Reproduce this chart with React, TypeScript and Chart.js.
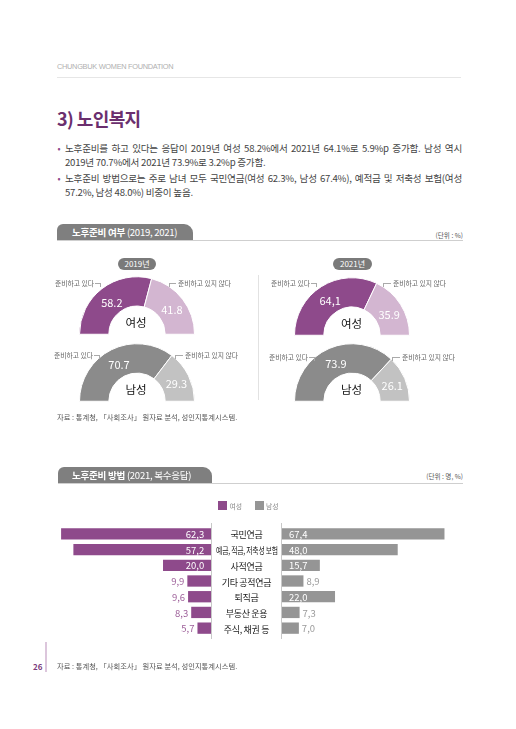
import React, { useEffect, useRef } from "react";
import { Chart, registerables } from "chart.js";

Chart.register(...registerables);

const FONT = '"Noto Sans CJK KR", "Noto Sans", sans-serif';
Chart.defaults.font.family = FONT;

// ---------- data ----------
const donutLabels = ["준비하고 있다", "준비하고 있지 않다"];
const female2019 = [58.2, 41.8];
const male2019 = [70.7, 29.3];
const female2021 = [64.1, 35.9];
const male2021 = [73.9, 26.1];
const female2019Marks = [".", "."];
const male2019Marks = [".", "."];
const female2021Marks = [",", "."];
const male2021Marks = [".", "."];
const yearLabels = ["2019년", "2021년"];

const methodCategories = [
  "국민연금",
  "예금, 적금, 저축성 보험",
  "사적연금",
  "기타 공적연금",
  "퇴직금",
  "부동산 운용",
  "주식, 채권 등",
];
const methodFemale = [62.3, 57.2, 20.0, 9.9, 9.6, 8.3, 5.7];
const methodMale = [67.4, 48.0, 15.7, 8.9, 22.0, 7.3, 7.0];
const legendLabels = ["여성", "남성"];

// ---------- colors ----------
const PURPLE = "#8e4a8b";
const PURPLE_LIGHT = "#d3b6d1";
const GREY_DARK = "#8b8b8b";
const GREY_LIGHT = "#c2c2c2";
const BAR_GREY = "#959595";

const fmt = (v: number, mark: string) => v.toFixed(1).replace(".", mark);

// ---------- text helper ----------
function T({
  x,
  y,
  size,
  color = "#333",
  weight = 400,
  align = "left",
  children,
  style = {},
  family = FONT,
}: any) {
  const tx = align === "left" ? "0" : align === "center" ? "-50%" : "-100%";
  return (
    <div
      style={{
        position: "absolute",
        left: x,
        top: y,
        transform: `translate(${tx}, -50%)`,
        fontSize: size,
        lineHeight: 1,
        color,
        fontWeight: weight,
        fontFamily: family,
        whiteSpace: "nowrap",
        ...style,
      }}
    >
      {children}
    </div>
  );
}

function Box({ x, y, w, h, bg, style = {} }: any) {
  return (
    <div
      style={{
        position: "absolute",
        left: x,
        top: y,
        width: w,
        height: h,
        background: bg,
        ...style,
      }}
    />
  );
}

// ---------- half doughnut ----------
function HalfDonut({ cx, cy, r, data, colors, marks }: any) {
  const ref = useRef<HTMLCanvasElement>(null);
  useEffect(() => {
    const valuePlugin = {
      id: "donutValues",
      afterDatasetsDraw(chart: any) {
        const ctx = chart.ctx;
        const meta = chart.getDatasetMeta(0);
        meta.data.forEach((arc: any, i: number) => {
          const p = arc.tooltipPosition(true);
          ctx.save();
          ctx.fillStyle = "#ffffff";
          ctx.font = `11px ${FONT}`;
          ctx.textAlign = "center";
          ctx.textBaseline = "middle";
          ctx.fillText(fmt(data[i], marks[i]), p.x + 1, p.y + 2);
          ctx.restore();
        });
      },
    };
    const chart = new Chart(ref.current as HTMLCanvasElement, {
      type: "doughnut",
      data: {
        labels: donutLabels,
        datasets: [
          {
            data,
            backgroundColor: colors,
            borderColor: "#ffffff",
            borderWidth: 1,
          },
        ],
      },
      options: {
        responsive: true,
        maintainAspectRatio: false,
        animation: false,
        rotation: -90,
        circumference: 180,
        cutout: "49%",
        layout: { padding: 0 },
        plugins: { legend: { display: false }, tooltip: { enabled: false } },
      } as any,
      plugins: [valuePlugin],
    });
    return () => chart.destroy();
  }, []);
  return (
    <div
      style={{
        position: "absolute",
        left: cx - r - 1,
        top: cy - r - 1.25,
        width: 2 * r + 2,
        height: r + 2,
      }}
    >
      <canvas ref={ref} />
    </div>
  );
}

// ---------- one side of butterfly bar ----------
function BarSide({ x, y, w, h, values, color, reverse, max, outsideColor }: any) {
  const ref = useRef<HTMLCanvasElement>(null);
  useEffect(() => {
    const labelPlugin = {
      id: "barValues",
      afterDatasetsDraw(chart: any) {
        const ctx = chart.ctx;
        const meta = chart.getDatasetMeta(0);
        meta.data.forEach((bar: any, i: number) => {
          const { x: bx, y: by, base } = bar.getProps(["x", "y", "base"], true);
          const v = values[i];
          const inside = v >= 12;
          ctx.save();
          ctx.font = `9.5px ${FONT}`;
          ctx.textBaseline = "middle";
          const txt = fmt(v, ",");
          if (reverse) {
            ctx.textAlign = "right";
            ctx.fillStyle = inside ? "#ffffff" : outsideColor;
            ctx.fillText(txt, inside ? base - 7 : bx - 3, by + 0.5);
          } else {
            ctx.textAlign = "left";
            ctx.fillStyle = inside ? "#ffffff" : outsideColor;
            ctx.fillText(txt, inside ? base + 7 : bx + 3, by + 0.5);
          }
          ctx.restore();
        });
      },
    };
    const chart = new Chart(ref.current as HTMLCanvasElement, {
      type: "bar",
      data: {
        labels: methodCategories,
        datasets: [
          {
            data: values,
            backgroundColor: color,
            borderWidth: 0,
            barPercentage: 0.72,
            categoryPercentage: 1,
          },
        ],
      },
      options: {
        indexAxis: "y",
        responsive: true,
        maintainAspectRatio: false,
        animation: false,
        layout: { padding: 0 },
        scales: {
          x: { display: false, min: 0, max, reverse },
          y: { display: false },
        },
        plugins: { legend: { display: false }, tooltip: { enabled: false } },
      } as any,
      plugins: [labelPlugin],
    });
    return () => chart.destroy();
  }, []);
  return (
    <div style={{ position: "absolute", left: x, top: y, width: w, height: h }}>
      <canvas ref={ref} />
    </div>
  );
}

function Leader({ x1, x2, y, dropAt }: any) {
  const left = Math.min(x1, x2);
  const w = Math.abs(x2 - x1);
  return (
    <div
      style={{
        position: "absolute",
        left,
        top: y,
        width: w,
        height: 4,
        borderTop: "1px solid #aaaaaa",
        borderRight: dropAt === "right" ? "1px solid #aaaaaa" : "none",
        borderLeft: dropAt === "left" ? "1px solid #aaaaaa" : "none",
        boxSizing: "border-box",
      }}
    />
  );
}

const PX_PER_UNIT = 2.41;
const BAR_TOP = 526;
const BAR_H = 110;
const LEFT_MAX = 64;
const RIGHT_MAX = 75;
const AXIS_L = 211;
const AXIS_R = 281;

export default function App() {
  const rowH = BAR_H / methodCategories.length;
  const lblSmall = 6.8;
  const lblColor = "#666";
  return (
    <div
      style={{
        position: "absolute",
        left: 0,
        top: 0,
        width: 516,
        height: 729,
        background: "#fff",
        overflow: "hidden",
        fontFamily: FONT,
      }}
    >
      {/* header */}
      <T x={57} y={67} size={7.4} color="#b0b0b0" family='"Liberation Sans", sans-serif' style={{ letterSpacing: -0.3 }}>
        CHUNGBUK WOMEN FOUNDATION
      </T>
      <Box x={57} y={77} w={404} h={1} bg="#e6e6e6" />

      {/* title */}
      <T x={57} y={118} size={18} weight={700} color="#6b2f6e" style={{ letterSpacing: -0.6 }}>
        3) 노인복지
      </T>

      {/* bullets */}
      <T x={57.5} y={148} size={9} color={PURPLE}>•</T>
      <div style={{ position: "absolute", left: 65, top: 141.5, width: 397, fontSize: 9.6, lineHeight: "13px", color: "#444", whiteSpace: "nowrap", textAlign: "justify", textAlignLast: "justify", letterSpacing: -0.25 } as any}>
        노후준비를 하고 있다는 응답이 2019년 여성 58.2%에서 2021년 64.1%로 5.9%p 증가함. 남성 역시
      </div>
      <T x={65} y={162.5} size={9.6} color="#444" style={{ letterSpacing: -0.25 }}>
        2019년 70.7%에서 2021년 73.9%로 3.2%p 증가함.
      </T>
      <T x={57.5} y={178} size={9} color={PURPLE}>•</T>
      <div style={{ position: "absolute", left: 65, top: 171.5, width: 397, fontSize: 9.6, lineHeight: "13px", color: "#444", whiteSpace: "nowrap", textAlign: "justify", textAlignLast: "justify", letterSpacing: -0.25 } as any}>
        노후준비 방법으로는 주로 남녀 모두 국민연금(여성 62.3%, 남성 67.4%), 예적금 및 저축성 보험(여성
      </div>
      <T x={65} y={193} size={9.6} color="#444" style={{ letterSpacing: -0.25 }}>
        57.2%, 남성 48.0%) 비중이 높음.
      </T>

      {/* section 1 header */}
      <Box x={57} y={224} w={136} h={16} bg="#7f7f7f" style={{ borderRadius: "6px 9px 0 0" }} />
      <Box x={57} y={240} w={406} h={1} bg="#cfcfcf" />
      <T x={72} y={232.5} size={9.6} color="#fff" style={{ letterSpacing: -0.3 }}>
        <b>노후준비 여부</b> (2019, 2021)
      </T>
      <T x={463} y={234.5} size={6.6} color="#555" align="right">(단위 : %)</T>

      {/* year pills */}
      <Box x={118} y={258} w={38} h={12} bg="#7a7a7a" style={{ borderRadius: 6 }} />
      <T x={137} y={264.3} size={8} color="#fff" align="center">{yearLabels[0]}</T>
      <Box x={333} y={258} w={39} h={12} bg="#7a7a7a" style={{ borderRadius: 6 }} />
      <T x={352.5} y={264.3} size={8} color="#fff" align="center">{yearLabels[1]}</T>

      {/* divider */}
      <Box x={258} y={275} w={1} h={125} bg="#e2e2e2" />

      {/* doughnuts */}
      <HalfDonut cx={136.5} cy={334.5} r={57} data={female2019} colors={[PURPLE, PURPLE_LIGHT]} marks={female2019Marks} />
      <HalfDonut cx={136.5} cy={401} r={57} data={male2019} colors={[GREY_DARK, GREY_LIGHT]} marks={male2019Marks} />
      <HalfDonut cx={351.5} cy={335} r={57} data={female2021} colors={[PURPLE, PURPLE_LIGHT]} marks={female2021Marks} />
      <HalfDonut cx={351.5} cy={401} r={57} data={male2021} colors={[GREY_DARK, GREY_LIGHT]} marks={male2021Marks} />

      {/* center labels */}
      <T x={136} y={323} size={11.5} color="#111" align="center">{legendLabels[0]}</T>
      <T x={136} y={389.5} size={11.5} color="#111" align="center">{legendLabels[1]}</T>
      <T x={351.5} y={323.5} size={11.5} color="#111" align="center">{legendLabels[0]}</T>
      <T x={351.5} y={389.5} size={11.5} color="#111" align="center">{legendLabels[1]}</T>

      {/* leader labels 2019 */}
      <T x={94} y={283} size={lblSmall} color={lblColor} align="right">{donutLabels[0]}</T>
      <Leader x1={95} x2={101} y={283} dropAt="right" />
      <T x={178} y={283} size={lblSmall} color={lblColor}>{donutLabels[1]}</T>
      <Leader x1={169} x2={176} y={283} dropAt="left" />
      <T x={93} y={355} size={lblSmall} color={lblColor} align="right">{donutLabels[0]}</T>
      <Leader x1={94} x2={100} y={355} dropAt="right" />
      <T x={185} y={355} size={lblSmall} color={lblColor}>{donutLabels[1]}</T>
      <Leader x1={175} x2={183} y={355} dropAt="left" />
      {/* leader labels 2021 */}
      <T x={310} y={283} size={lblSmall} color={lblColor} align="right">{donutLabels[0]}</T>
      <Leader x1={311} x2={317} y={283} dropAt="right" />
      <T x={393} y={283} size={lblSmall} color={lblColor}>{donutLabels[1]}</T>
      <Leader x1={383} x2={391} y={283} dropAt="left" />
      <T x={308} y={357} size={lblSmall} color={lblColor} align="right">{donutLabels[0]}</T>
      <Leader x1={309} x2={315} y={357} dropAt="right" />
      <T x={402} y={357} size={lblSmall} color={lblColor}>{donutLabels[1]}</T>
      <Leader x1={392} x2={400} y={357} dropAt="left" />

      {/* source 1 */}
      <T x={57} y={418} size={7.3} color="#555" style={{ letterSpacing: 0 }}>
        자료 : 통계청, 「사회조사」 원자료 분석, 성인지통계시스템.
      </T>

      {/* section 2 header */}
      <Box x={58} y={467} w={154} h={16} bg="#7f7f7f" style={{ borderRadius: "6px 9px 0 0" }} />
      <Box x={58} y={483} w={405} h={1} bg="#cfcfcf" />
      <T x={72} y={475.5} size={9.6} color="#fff" style={{ letterSpacing: -0.3 }}>
        <b>노후준비 방법</b> (2021, 복수응답)
      </T>
      <T x={463} y={476} size={6.6} color="#555" align="right">(단위 : 명, %)</T>

      {/* legend */}
      <Box x={218} y={501} w={9} h={9} bg={PURPLE} />
      <T x={229.5} y={505.5} size={6.8} color="#888">{legendLabels[0]}</T>
      <Box x={255} y={501} w={9} h={9} bg={BAR_GREY} />
      <T x={266} y={505.5} size={6.8} color="#888">{legendLabels[1]}</T>

      {/* axis lines */}
      <Box x={AXIS_L} y={523} w={1} h={116} bg="#c8c8c8" />
      <Box x={AXIS_R} y={523} w={1} h={116} bg="#c8c8c8" />

      {/* bars */}
      <BarSide
        x={AXIS_L - LEFT_MAX * PX_PER_UNIT}
        y={BAR_TOP}
        w={LEFT_MAX * PX_PER_UNIT}
        h={BAR_H}
        values={methodFemale}
        color={PURPLE}
        reverse={true}
        max={LEFT_MAX}
        outsideColor="#9d5f99"
      />
      <BarSide
        x={AXIS_R + 0.5}
        y={BAR_TOP}
        w={RIGHT_MAX * PX_PER_UNIT}
        h={BAR_H}
        values={methodMale}
        color={BAR_GREY}
        reverse={false}
        max={RIGHT_MAX}
        outsideColor="#9a9a9a"
      />

      {/* category labels */}
      {methodCategories.map((c, i) => (
        <T key={c} x={246.5} y={BAR_TOP + rowH * (i + 0.5) + 0.5} size={9} color="#1a1a1a" align="center">
          <span style={{ display: "inline-block", transform: c.length > 10 ? "scaleX(0.76)" : "none", letterSpacing: -0.3 }}>{c}</span>
        </T>
      ))}

      {/* footer */}
      <Box x={45} y={642} w={1.5} h={30} bg="#dcc6dc" />
      <T x={33} y={667} size={8} weight={700} color="#7b3b7c">26</T>
      <T x={57} y={667} size={7.3} color="#555" style={{ letterSpacing: 0 }}>
        자료 : 통계청, 「사회조사」 원자료 분석, 성인지통계시스템.
      </T>
    </div>
  );
}
